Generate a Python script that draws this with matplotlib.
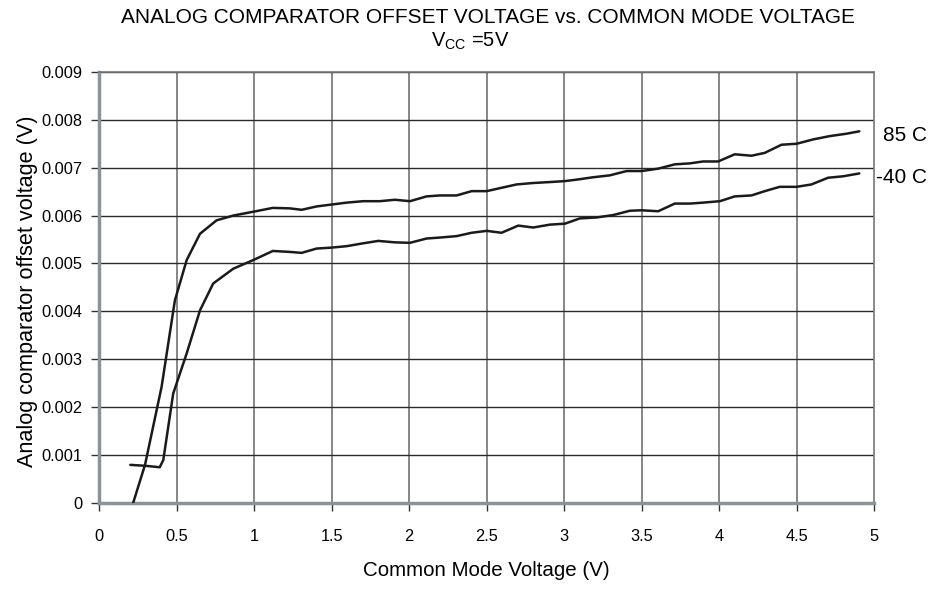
import matplotlib
matplotlib.use("Agg")
import matplotlib.pyplot as plt

plt.rcParams['font.family'] = ['Liberation Sans', 'DejaVu Sans']
plt.rcParams['mathtext.fontset'] = 'custom'
plt.rcParams['mathtext.rm'] = 'Liberation Sans'
plt.rcParams['mathtext.it'] = 'Liberation Sans'

# 85 C curve
x85 = [0.219, 0.295, 0.402, 0.488, 0.564, 0.65, 0.757, 0.865, 0.994, 1.12, 1.23,
       1.306, 1.402, 1.499, 1.596, 1.703, 1.81, 1.908, 2.005, 2.112, 2.198, 2.306,
       2.403, 2.5, 2.596, 2.693, 2.8, 2.908, 3.005, 3.08, 3.187, 3.295, 3.403, 3.5,
       3.607, 3.714, 3.811, 3.897, 3.994, 4.101, 4.209, 4.295, 4.403, 4.5, 4.606,
       4.714, 4.822, 4.905]
y85 = [0.0, 0.00079, 0.00242, 0.00423, 0.00507, 0.00562, 0.0059, 0.0060, 0.00608,
       0.00616, 0.00615, 0.00612, 0.00619, 0.00623, 0.00627, 0.0063, 0.0063, 0.00633,
       0.0063, 0.0064, 0.00642, 0.00642, 0.00651, 0.00651, 0.00658, 0.00665, 0.00668,
       0.0067, 0.00672, 0.00675, 0.0068, 0.00684, 0.00693, 0.00693, 0.00698, 0.00707,
       0.00709, 0.00713, 0.00713, 0.00728, 0.00725, 0.00731, 0.00748, 0.0075, 0.00759,
       0.00766, 0.00771, 0.00776]

# -40 C curve
xm40 = [0.20, 0.30, 0.39, 0.413, 0.477, 0.564, 0.65, 0.735, 0.865, 0.994, 1.12, 1.23,
        1.306, 1.402, 1.499, 1.596, 1.703, 1.8, 1.908, 2.005, 2.112, 2.198, 2.306,
        2.403, 2.5, 2.596, 2.704, 2.8, 2.908, 3.005, 3.101, 3.21, 3.316, 3.424, 3.5,
        3.607, 3.714, 3.811, 3.897, 4.005, 4.101, 4.209, 4.295, 4.391, 4.5, 4.596,
        4.703, 4.8, 4.905]
ym40 = [0.00079, 0.00077, 0.00074, 0.00089, 0.00228, 0.00312, 0.00402, 0.00458,
        0.00489, 0.00507, 0.00526, 0.00524, 0.00522, 0.00531, 0.00533, 0.00536,
        0.00542, 0.00547, 0.00544, 0.00543, 0.00552, 0.00554, 0.00557, 0.00564,
        0.00568, 0.00564, 0.00579, 0.00575, 0.00581, 0.00583, 0.00594, 0.00596,
        0.00601, 0.0061, 0.00611, 0.00609, 0.00625, 0.00625, 0.00627, 0.0063,
        0.0064, 0.00642, 0.00651, 0.0066, 0.0066, 0.00665, 0.00679, 0.00682, 0.00688]

xticks = [0, 0.5, 1, 1.5, 2, 2.5, 3, 3.5, 4, 4.5, 5]
xticklabels = ['0', '0.5', '1', '1.5', '2', '2.5', '3', '3.5', '4', '4.5', '5']
yticks = [0, 0.001, 0.002, 0.003, 0.004, 0.005, 0.006, 0.007, 0.008, 0.009]
yticklabels = ['0', '0.001', '0.002', '0.003', '0.004', '0.005', '0.006', '0.007', '0.008', '0.009']

fig = plt.figure(figsize=(9.35, 5.9), dpi=100)
ax = fig.add_axes([0.1062, 0.148, 0.8286, 0.730])

ax.set_xlim(0, 5)
ax.set_ylim(0, 0.009)
ax.set_xticks(xticks)
ax.set_xticklabels(xticklabels, fontsize=11.8)
ax.set_yticks(yticks)
ax.set_yticklabels(yticklabels, fontsize=11.8)
ax.tick_params(axis='y', direction='out', length=5.5, width=1, color='#333333', pad=6.5)
ax.tick_params(axis='x', direction='out', length=6, width=1, color='#333333', pad=13)

for v in xticks[1:-1]:
    ax.axvline(v, color='#666666', lw=1.1, zorder=1)
for v in yticks[1:]:
    ax.axhline(v, color='#2a2a2a', lw=1.0, zorder=1)

for s in ['top', 'right']:
    ax.spines[s].set_color('#777777')
    ax.spines[s].set_linewidth(1.2)
for s in ['left', 'bottom']:
    ax.spines[s].set_color('#8a939c')
    ax.spines[s].set_linewidth(2.5)

ax.plot(x85, y85, color='#1a1a1a', lw=1.8, zorder=3,
        solid_joinstyle='round', solid_capstyle='round')
ax.plot(xm40, ym40, color='#1a1a1a', lw=1.8, zorder=3,
        solid_joinstyle='round', solid_capstyle='round')

ax.text(1.0115, 0.00768, '85 C', transform=ax.get_yaxis_transform(), fontsize=15,
        va='center', ha='left')
ax.text(1.0025, 0.00680, '-40 C', transform=ax.get_yaxis_transform(), fontsize=15,
        va='center', ha='left')

ax.set_xlabel('Common Mode Voltage (V)', fontsize=14.8)
ax.xaxis.set_label_coords(0.5, -0.1354)
ax.set_ylabel('Analog comparator offset voltage (V)', fontsize=15.6)
ax.yaxis.set_label_coords(-0.079, 0.49)

fig.text(0.522, 0.971, 'ANALOG COMPARATOR OFFSET VOLTAGE vs. COMMON MODE VOLTAGE',
         ha='center', va='center', fontsize=15)
fig.text(0.503, 0.930, r'V$_{\rm CC}$ =5V', ha='center', va='center', fontsize=14.5)

fig.savefig('out.png', dpi=100)
